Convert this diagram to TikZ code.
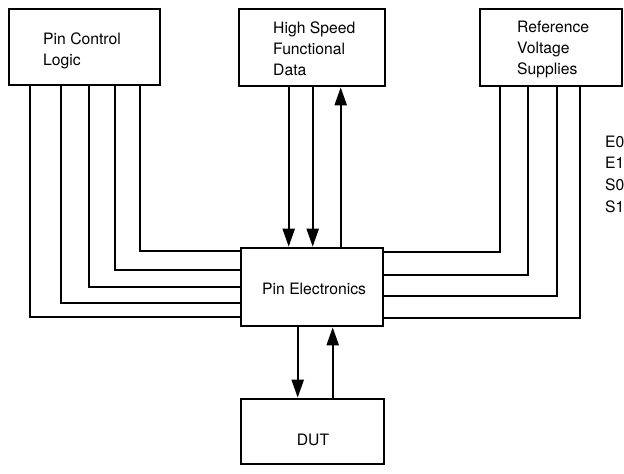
\documentclass[tikz,border=0pt]{standalone}
\usepackage{fontspec}
\setmainfont{TeX Gyre Heros}
\usetikzlibrary{arrows.meta,calc}
\begin{document}
\begin{tikzpicture}[x=1pt,y=-1pt,
  box/.style={draw,line width=2.6pt,inner sep=0pt},
  txt/.style={anchor=base west,inner sep=0pt,font=\fontsize{15.7}{21}\selectfont},
  wire/.style={line width=2.2pt},
  arr/.style={wire,-{Triangle[length=18pt,width=12pt]}}]
\useasboundingbox (0,0) rectangle (624,474);
% boxes
\node[box,minimum width=151pt,minimum height=76pt] (pcl) at (84.5,47) {};
\node[box,minimum width=146pt,minimum height=77pt] (hsfd) at (312,47.5) {};
\node[box,minimum width=142pt,minimum height=77pt] (rvs) at (551,47.5) {};
\node[box,minimum width=142pt,minimum height=78pt] (pe) at (312,287) {};
\node[box,minimum width=143pt,minimum height=65pt] (dut) at (312.5,431.5) {};
% texts
\node[txt] (t1) at (43,44) {Pin Control};
\node[txt] (t2) at (43,65) {Logic};
\node[txt] (t3) at (273,33) {High Speed};
\node[txt] (t4) at (273,54) {Functional};
\node[txt] (t5) at (273,75) {Data};
\node[txt] (t6) at (517,32) {Reference};
\node[txt] (t7) at (517,53) {Voltage};
\node[txt] (t8) at (517,74) {Supplies};
\node[txt] (e0) at (605,147) {E0};
\node[txt] (e1) at (605,168) {E1};
\node[txt] (s0) at (605,190) {S0};
\node[txt] (s1) at (605,212) {S1};
\node[txt] (t9) at (262,294) {Pin Electronics};
\node[txt,anchor=base] (t10) at (313,445) {DUT};
% left wires
\draw[wire] ($(pcl.south west)+(22,0)$) |- ($(pe.north west)+(0,70)$);
\draw[wire] ($(pcl.south west)+(53,0)$) |- ($(pe.north west)+(0,56)$);
\draw[wire] ($(pcl.south west)+(81,0)$) |- ($(pe.north west)+(0,40)$);
\draw[wire] ($(pcl.south west)+(107,0)$) |- ($(pe.north west)+(0,23)$);
\draw[wire] ($(pcl.south west)+(132,0)$) |- ($(pe.north west)+(0,4)$);
% right wires
\draw[wire] ($(rvs.south west)+(21,0)$) |- ($(pe.north east)+(0,5)$);
\draw[wire] ($(rvs.south west)+(49,0)$) |- ($(pe.north east)+(0,28)$);
\draw[wire] ($(rvs.south west)+(78,0)$) |- ($(pe.north east)+(0,49)$);
\draw[wire] ($(rvs.south west)+(101,0)$) |- ($(pe.north east)+(0,71)$);
% high speed data arrows
\coordinate (h1) at ($(hsfd.south west)+(51,0)$);
\coordinate (h2) at ($(hsfd.south west)+(75,0)$);
\coordinate (h3) at ($(hsfd.south west)+(103,0)$);
\draw[arr] (h1) -- (h1 |- pe.north);
\draw[arr] (h2) -- (h2 |- pe.north);
\draw[arr] (h3 |- pe.north) -- (h3);
% DUT arrows
\coordinate (d1) at ($(pe.south west)+(58,0)$);
\coordinate (d2) at ($(pe.south west)+(93,0)$);
\draw[arr] (d1) -- (d1 |- dut.north);
\draw[arr] (d2 |- dut.north) -- (d2);
\end{tikzpicture}
\end{document}
